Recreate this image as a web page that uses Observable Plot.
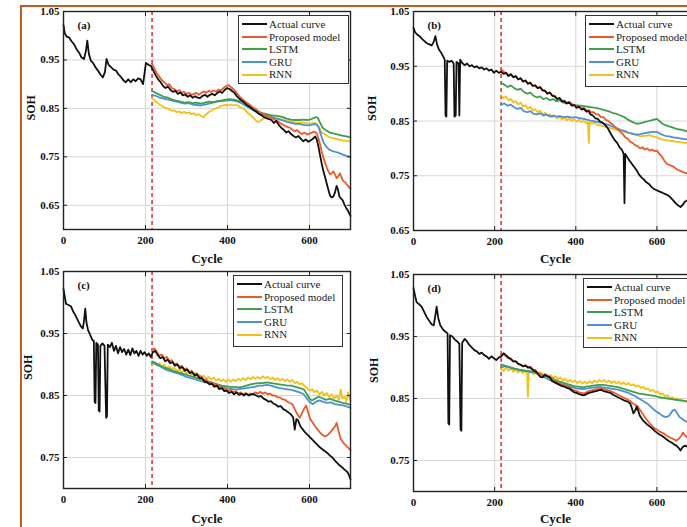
<!DOCTYPE html>
<html><head><meta charset="utf-8">
<script src="https://cdn.jsdelivr.net/npm/d3@7"></script>
<script src="https://cdn.jsdelivr.net/npm/@observablehq/plot@0.6"></script>
<style>
body{margin:0;background:#fff;}
#wrap{position:relative;width:687px;height:527px;overflow:hidden;background:#fff;font-family:'Liberation Serif','Times New Roman',serif;}
.border{position:absolute;left:20px;top:5px;width:720px;height:600px;border-left:2px solid #c25b22;border-top:2px solid #c25b22;pointer-events:none;}
.panel{position:absolute;}
.legend{position:absolute;background:#fff;border:1.5px solid #333;box-sizing:border-box;font-size:11px;color:#222;padding:2px 0 0 3px;font-weight:normal;}
.legend .row{height:12.6px;line-height:12.6px;white-space:nowrap;display:flex;align-items:center;}
.legend .sw{display:inline-block;width:25px;height:0;border-top:2px solid;margin-right:2px;}
</style></head><body><div id="wrap"></div>
<script>
// ---------------- data ----------------
const seriesNames = ["Actual curve", "Proposed model", "LSTM", "GRU", "RNN"];
const seriesColors = ["#111111", "#ea5a2a", "#3d9f4f", "#4f8fd6", "#f3c116"];
const xTicks = [0, 200, 400, 600];
const xDomain = [0, 700];
const splitCycle = 216;
const panelTags = ["(a)", "(b)", "(c)", "(d)"];
const yTicksAB = [0.65, 0.75, 0.85, 0.95, 1.05];
const yTicksCD = [0.75, 0.85, 0.95, 1.05];

// Panel (a)
const actualA = [[0,1.022],[3,1.005],[8,0.998],[14,0.996],[20,0.988],[26,0.982],[32,0.972],[38,0.965],[44,0.955],[50,0.952],[55,0.97],[58,0.99],[62,0.962],[67,0.948],[72,0.944],[78,0.935],[84,0.928],[90,0.92],[96,0.914],[101,0.925],[105,0.952],[110,0.94],[116,0.935],[122,0.93],[128,0.928],[134,0.92],[140,0.915],[146,0.908],[152,0.904],[158,0.91],[164,0.904],[170,0.91],[176,0.906],[182,0.912],[188,0.91],[194,0.9],[198,0.925],[201,0.944],[207,0.94],[213,0.938],[219,0.928],[225,0.918],[231,0.91],[237,0.904],[243,0.896],[249,0.892],[255,0.895],[261,0.888],[267,0.884],[273,0.886],[279,0.88],[285,0.883],[291,0.877],[297,0.879],[303,0.874],[309,0.877],[315,0.872],[321,0.875],[327,0.872],[333,0.871],[339,0.876],[345,0.878],[351,0.874],[357,0.878],[363,0.88],[369,0.877],[375,0.882],[381,0.885],[387,0.882],[393,0.888],[399,0.892],[405,0.89],[411,0.886],[417,0.882],[423,0.875],[429,0.87],[435,0.866],[441,0.862],[447,0.857],[453,0.854],[459,0.85],[465,0.846],[471,0.843],[477,0.838],[483,0.836],[489,0.832],[495,0.83],[501,0.828],[507,0.826],[513,0.82],[519,0.824],[525,0.816],[531,0.81],[537,0.806],[543,0.8],[549,0.803],[555,0.797],[561,0.793],[567,0.79],[573,0.793],[579,0.787],[585,0.782],[591,0.786],[597,0.781],[603,0.784],[609,0.788],[614,0.792],[618,0.785],[622,0.77],[626,0.752],[630,0.735],[634,0.72],[638,0.708],[642,0.695],[646,0.682],[650,0.67],[654,0.666],[658,0.668],[662,0.676],[666,0.69],[669,0.684],[673,0.668],[677,0.664],[681,0.66],[685,0.652],[689,0.645],[693,0.64],[697,0.633],[700,0.628]];
const proposedA = [[216,0.942],[222,0.932],[228,0.922],[234,0.915],[240,0.908],[246,0.904],[252,0.898],[258,0.9],[264,0.892],[270,0.89],[276,0.885],[282,0.888],[288,0.882],[294,0.884],[300,0.88],[306,0.882],[312,0.878],[318,0.88],[324,0.882],[330,0.878],[336,0.882],[342,0.885],[348,0.882],[354,0.886],[360,0.884],[366,0.887],[372,0.885],[378,0.889],[384,0.887],[390,0.892],[396,0.896],[402,0.898],[408,0.894],[414,0.89],[420,0.885],[426,0.878],[432,0.872],[438,0.868],[444,0.863],[450,0.86],[456,0.856],[462,0.852],[468,0.849],[474,0.845],[480,0.842],[486,0.839],[492,0.836],[498,0.834],[504,0.832],[510,0.829],[516,0.826],[522,0.824],[528,0.82],[534,0.817],[540,0.814],[546,0.812],[552,0.81],[558,0.806],[564,0.803],[570,0.805],[576,0.8],[582,0.797],[588,0.8],[594,0.796],[600,0.798],[606,0.8],[612,0.802],[618,0.798],[622,0.788],[626,0.775],[630,0.76],[634,0.748],[638,0.738],[642,0.728],[646,0.72],[650,0.714],[654,0.716],[658,0.72],[662,0.714],[666,0.706],[670,0.71],[674,0.716],[678,0.708],[682,0.7],[686,0.698],[690,0.694],[694,0.69],[698,0.686],[700,0.684]];
const lstmA = [[216,0.886],[225,0.882],[235,0.878],[245,0.874],[255,0.872],[265,0.868],[275,0.866],[285,0.864],[295,0.862],[305,0.863],[315,0.861],[325,0.862],[335,0.86],[345,0.862],[355,0.864],[365,0.863],[375,0.865],[385,0.866],[395,0.868],[405,0.869],[415,0.868],[425,0.866],[435,0.864],[445,0.858],[455,0.852],[465,0.846],[475,0.842],[485,0.84],[495,0.838],[505,0.836],[515,0.835],[525,0.834],[535,0.832],[545,0.829],[555,0.827],[565,0.826],[575,0.826],[585,0.827],[595,0.826],[605,0.828],[615,0.832],[620,0.831],[626,0.82],[632,0.81],[640,0.805],[650,0.8],[660,0.798],[670,0.796],[680,0.794],[690,0.792],[700,0.79]];
const gruA = [[216,0.878],[225,0.876],[235,0.872],[245,0.87],[255,0.868],[265,0.866],[275,0.864],[285,0.862],[295,0.86],[305,0.861],[315,0.858],[325,0.857],[335,0.856],[345,0.858],[355,0.86],[365,0.862],[375,0.864],[385,0.865],[395,0.866],[405,0.867],[415,0.866],[425,0.864],[435,0.86],[445,0.855],[455,0.85],[465,0.845],[475,0.84],[485,0.838],[495,0.835],[505,0.833],[515,0.83],[525,0.828],[535,0.825],[545,0.822],[555,0.82],[565,0.818],[575,0.818],[585,0.816],[595,0.815],[605,0.816],[615,0.818],[622,0.812],[628,0.795],[634,0.78],[640,0.772],[648,0.765],[656,0.762],[664,0.76],[672,0.758],[680,0.755],[690,0.752],[700,0.75]];
const rnnA = [[216,0.872],[222,0.866],[228,0.862],[234,0.858],[240,0.855],[246,0.852],[252,0.85],[258,0.848],[264,0.845],[270,0.846],[276,0.842],[282,0.844],[288,0.84],[294,0.843],[300,0.84],[306,0.842],[312,0.838],[318,0.84],[324,0.836],[330,0.838],[336,0.834],[342,0.832],[348,0.838],[354,0.842],[360,0.845],[366,0.848],[372,0.85],[378,0.852],[384,0.855],[390,0.856],[396,0.857],[402,0.856],[408,0.858],[414,0.856],[420,0.858],[426,0.855],[432,0.852],[438,0.85],[444,0.846],[450,0.84],[456,0.836],[462,0.832],[468,0.826],[474,0.822],[480,0.824],[486,0.828],[492,0.832],[498,0.834],[504,0.833],[510,0.832],[520,0.83],[530,0.828],[540,0.826],[550,0.824],[560,0.822],[570,0.82],[580,0.821],[590,0.82],[600,0.818],[610,0.82],[618,0.818],[624,0.81],[630,0.8],[640,0.795],[650,0.79],[660,0.788],[670,0.786],[680,0.784],[690,0.783],[700,0.782]];

// Panel (b)
const actualB = [[0,1.02],[4,1.012],[9,1.008],[15,1.005],[21,1.0],[27,0.996],[33,0.992],[39,0.99],[45,0.988],[50,0.995],[54,1.005],[58,0.99],[63,0.98],[68,0.975],[73,0.968],[77,0.962],[79,0.86],[81,0.858],[83,0.96],[88,0.958],[94,0.96],[99,0.955],[101,0.858],[104,0.86],[106,0.958],[111,0.955],[113,0.86],[115,0.962],[120,0.956],[126,0.952],[132,0.955],[138,0.95],[144,0.952],[150,0.948],[156,0.95],[162,0.946],[168,0.948],[174,0.944],[180,0.946],[186,0.942],[192,0.944],[198,0.938],[204,0.942],[210,0.938],[216,0.94],[222,0.936],[228,0.938],[234,0.932],[240,0.935],[246,0.93],[252,0.932],[258,0.926],[264,0.928],[270,0.922],[276,0.924],[282,0.918],[288,0.92],[294,0.914],[300,0.915],[306,0.91],[312,0.912],[318,0.906],[324,0.905],[330,0.9],[336,0.902],[342,0.896],[348,0.895],[354,0.89],[360,0.892],[366,0.886],[372,0.886],[378,0.882],[384,0.884],[390,0.878],[396,0.879],[402,0.874],[408,0.876],[414,0.871],[420,0.872],[426,0.867],[432,0.868],[436,0.862],[442,0.86],[448,0.855],[454,0.854],[460,0.849],[466,0.847],[472,0.843],[478,0.838],[484,0.83],[490,0.822],[496,0.815],[502,0.81],[508,0.802],[514,0.797],[518,0.79],[520,0.7],[522,0.79],[526,0.785],[532,0.778],[538,0.772],[544,0.766],[550,0.76],[556,0.752],[562,0.747],[568,0.743],[574,0.738],[580,0.735],[586,0.73],[592,0.726],[598,0.724],[604,0.722],[610,0.72],[616,0.718],[622,0.716],[628,0.714],[634,0.71],[640,0.705],[646,0.7],[652,0.696],[658,0.693],[664,0.697],[668,0.702],[674,0.705],[680,0.704],[686,0.706],[692,0.708],[700,0.71]];
const proposedB = [[216,0.946],[222,0.94],[228,0.938],[234,0.934],[240,0.936],[246,0.93],[252,0.932],[258,0.926],[264,0.928],[270,0.922],[276,0.924],[282,0.918],[288,0.92],[294,0.914],[300,0.915],[306,0.91],[312,0.912],[318,0.906],[324,0.906],[330,0.9],[336,0.902],[342,0.897],[348,0.896],[354,0.891],[360,0.892],[366,0.887],[372,0.887],[378,0.883],[384,0.885],[390,0.88],[396,0.88],[402,0.876],[408,0.877],[414,0.873],[420,0.874],[426,0.87],[432,0.87],[438,0.866],[444,0.866],[450,0.862],[456,0.862],[462,0.857],[468,0.857],[474,0.852],[480,0.85],[486,0.846],[492,0.843],[498,0.838],[504,0.835],[510,0.83],[516,0.826],[522,0.82],[528,0.818],[534,0.812],[540,0.81],[546,0.806],[552,0.804],[558,0.8],[564,0.802],[570,0.798],[576,0.8],[582,0.796],[588,0.798],[594,0.795],[600,0.796],[606,0.79],[612,0.785],[618,0.778],[624,0.772],[630,0.77],[636,0.768],[642,0.766],[648,0.762],[654,0.76],[660,0.758],[666,0.756],[672,0.755],[680,0.754],[690,0.752],[700,0.75]];
const lstmB = [[216,0.92],[224,0.916],[232,0.912],[240,0.915],[248,0.91],[256,0.907],[264,0.909],[272,0.903],[280,0.9],[288,0.902],[296,0.896],[304,0.893],[312,0.895],[320,0.89],[328,0.892],[336,0.888],[344,0.89],[352,0.886],[360,0.888],[368,0.884],[376,0.882],[384,0.884],[392,0.88],[400,0.879],[410,0.878],[420,0.877],[430,0.876],[440,0.875],[450,0.874],[460,0.872],[470,0.87],[480,0.868],[490,0.865],[500,0.863],[510,0.86],[520,0.857],[530,0.852],[540,0.848],[550,0.845],[560,0.846],[570,0.848],[580,0.85],[590,0.852],[600,0.854],[606,0.85],[614,0.845],[622,0.842],[630,0.84],[640,0.838],[650,0.835],[660,0.834],[670,0.832],[680,0.83],[690,0.83],[700,0.829]];
const gruB = [[216,0.88],[224,0.882],[232,0.878],[240,0.88],[248,0.875],[256,0.872],[264,0.874],[272,0.868],[280,0.866],[288,0.868],[296,0.863],[304,0.862],[312,0.864],[320,0.86],[328,0.862],[336,0.858],[344,0.86],[352,0.858],[360,0.859],[370,0.857],[380,0.858],[390,0.856],[400,0.857],[410,0.855],[420,0.854],[430,0.852],[440,0.85],[450,0.849],[460,0.847],[470,0.845],[480,0.843],[490,0.84],[500,0.837],[510,0.834],[520,0.832],[530,0.829],[540,0.827],[550,0.825],[560,0.826],[570,0.828],[580,0.829],[590,0.83],[600,0.83],[610,0.826],[620,0.823],[630,0.822],[640,0.82],[650,0.819],[660,0.818],[670,0.817],[680,0.816],[690,0.815],[700,0.814]];
const rnnB = [[216,0.897],[222,0.892],[228,0.895],[234,0.888],[240,0.89],[246,0.884],[252,0.886],[258,0.88],[264,0.884],[270,0.876],[276,0.879],[282,0.872],[288,0.876],[294,0.869],[300,0.872],[306,0.866],[312,0.869],[318,0.862],[324,0.865],[330,0.86],[336,0.862],[342,0.857],[348,0.86],[354,0.855],[360,0.858],[366,0.853],[372,0.856],[378,0.851],[384,0.855],[390,0.85],[396,0.853],[402,0.849],[408,0.852],[414,0.848],[420,0.85],[426,0.846],[430,0.848],[432,0.81],[434,0.848],[440,0.845],[446,0.847],[452,0.843],[460,0.842],[470,0.84],[480,0.838],[490,0.836],[500,0.834],[510,0.832],[520,0.83],[530,0.828],[540,0.826],[550,0.824],[560,0.822],[570,0.823],[580,0.824],[590,0.822],[600,0.82],[610,0.817],[620,0.815],[630,0.814],[640,0.813],[650,0.812],[660,0.811],[670,0.81],[680,0.81],[690,0.809],[700,0.808]];

// Panel (c)
const actualC = [[0,1.022],[3,1.01],[6,0.998],[12,0.996],[18,0.994],[24,0.985],[30,0.978],[36,0.97],[42,0.962],[47,0.958],[50,0.97],[53,0.99],[56,0.968],[60,0.955],[65,0.948],[70,0.94],[74,0.938],[76,0.84],[78,0.838],[80,0.935],[84,0.932],[86,0.826],[88,0.824],[90,0.93],[95,0.934],[100,0.93],[104,0.814],[106,0.816],[108,0.932],[113,0.928],[118,0.935],[123,0.922],[128,0.93],[133,0.918],[138,0.928],[143,0.92],[148,0.925],[153,0.916],[158,0.924],[163,0.915],[168,0.926],[173,0.918],[178,0.922],[183,0.914],[188,0.922],[193,0.916],[198,0.92],[203,0.914],[208,0.918],[213,0.912],[218,0.92],[224,0.922],[230,0.915],[236,0.91],[242,0.912],[248,0.905],[254,0.908],[260,0.902],[266,0.904],[272,0.898],[278,0.9],[284,0.894],[290,0.896],[296,0.89],[302,0.892],[308,0.886],[314,0.888],[320,0.882],[326,0.884],[332,0.878],[338,0.878],[344,0.872],[350,0.872],[356,0.868],[362,0.869],[368,0.864],[374,0.866],[380,0.86],[386,0.862],[392,0.857],[398,0.858],[404,0.854],[410,0.856],[416,0.852],[422,0.855],[428,0.851],[434,0.853],[440,0.85],[446,0.853],[452,0.85],[458,0.852],[464,0.852],[470,0.85],[476,0.848],[482,0.849],[488,0.845],[494,0.843],[500,0.84],[506,0.841],[512,0.837],[518,0.835],[524,0.832],[530,0.833],[536,0.828],[542,0.826],[548,0.823],[554,0.82],[560,0.815],[564,0.795],[568,0.812],[572,0.81],[578,0.8],[584,0.795],[590,0.79],[596,0.786],[602,0.782],[608,0.778],[614,0.774],[620,0.77],[626,0.766],[632,0.763],[638,0.76],[644,0.757],[650,0.753],[656,0.75],[662,0.745],[668,0.741],[674,0.737],[680,0.734],[686,0.73],[692,0.727],[696,0.722],[700,0.715]];
const proposedC = [[216,0.924],[222,0.926],[228,0.92],[234,0.914],[240,0.916],[246,0.91],[252,0.912],[258,0.905],[264,0.907],[270,0.9],[276,0.902],[282,0.896],[288,0.898],[294,0.892],[300,0.894],[306,0.888],[312,0.89],[318,0.884],[324,0.886],[330,0.88],[336,0.881],[342,0.875],[348,0.876],[354,0.871],[360,0.872],[366,0.867],[372,0.868],[378,0.863],[384,0.865],[390,0.86],[396,0.861],[402,0.857],[408,0.859],[414,0.855],[420,0.857],[426,0.853],[432,0.855],[438,0.852],[444,0.854],[450,0.851],[456,0.853],[462,0.852],[468,0.855],[474,0.853],[480,0.856],[486,0.853],[492,0.855],[498,0.852],[504,0.853],[510,0.85],[516,0.85],[522,0.847],[528,0.847],[534,0.844],[540,0.843],[546,0.84],[552,0.838],[558,0.836],[564,0.828],[570,0.82],[576,0.814],[582,0.822],[588,0.83],[592,0.834],[596,0.824],[602,0.812],[608,0.806],[614,0.8],[620,0.795],[626,0.79],[632,0.786],[638,0.784],[644,0.786],[650,0.79],[656,0.795],[662,0.8],[666,0.806],[670,0.795],[676,0.78],[682,0.774],[688,0.77],[694,0.766],[700,0.762]];
const lstmC = [[216,0.905],[226,0.902],[236,0.898],[246,0.895],[256,0.893],[266,0.89],[276,0.888],[286,0.886],[296,0.884],[306,0.882],[316,0.88],[326,0.878],[336,0.876],[346,0.874],[356,0.872],[366,0.87],[376,0.868],[386,0.866],[396,0.865],[406,0.864],[416,0.864],[426,0.863],[436,0.864],[446,0.866],[456,0.868],[466,0.869],[476,0.87],[486,0.87],[496,0.871],[506,0.87],[516,0.869],[526,0.868],[536,0.867],[546,0.866],[556,0.866],[566,0.864],[576,0.862],[586,0.86],[594,0.852],[600,0.845],[606,0.842],[614,0.845],[622,0.848],[630,0.846],[640,0.843],[650,0.845],[660,0.842],[670,0.84],[680,0.838],[690,0.837],[700,0.835]];
const gruC = [[216,0.903],[226,0.9],[236,0.897],[246,0.893],[256,0.89],[266,0.888],[276,0.886],[286,0.884],[296,0.881],[306,0.879],[316,0.877],[326,0.875],[336,0.873],[346,0.871],[356,0.869],[366,0.867],[376,0.866],[386,0.864],[396,0.862],[406,0.861],[416,0.86],[426,0.86],[436,0.861],[446,0.862],[456,0.863],[466,0.864],[476,0.866],[486,0.866],[496,0.867],[506,0.866],[516,0.864],[526,0.862],[536,0.861],[546,0.86],[556,0.859],[566,0.857],[576,0.855],[586,0.852],[594,0.845],[600,0.84],[608,0.836],[616,0.84],[624,0.842],[632,0.84],[642,0.838],[652,0.839],[662,0.836],[672,0.835],[682,0.834],[692,0.832],[700,0.83]];
const rnnC = [[216,0.9],[222,0.904],[228,0.898],[234,0.902],[240,0.896],[246,0.9],[252,0.894],[258,0.897],[264,0.892],[270,0.895],[276,0.889],[282,0.893],[288,0.887],[294,0.89],[300,0.886],[306,0.889],[312,0.884],[318,0.886],[324,0.882],[330,0.884],[336,0.879],[342,0.882],[348,0.877],[354,0.88],[360,0.876],[366,0.879],[372,0.874],[378,0.877],[384,0.873],[390,0.876],[396,0.872],[402,0.876],[408,0.872],[414,0.876],[420,0.873],[426,0.877],[432,0.874],[438,0.878],[444,0.875],[450,0.879],[456,0.876],[462,0.88],[468,0.877],[474,0.88],[480,0.877],[486,0.881],[492,0.878],[498,0.88],[504,0.876],[510,0.879],[516,0.875],[522,0.878],[528,0.874],[534,0.877],[540,0.873],[546,0.876],[552,0.872],[558,0.875],[564,0.87],[570,0.872],[576,0.868],[582,0.87],[588,0.865],[594,0.862],[600,0.858],[606,0.86],[612,0.855],[618,0.858],[624,0.852],[630,0.856],[636,0.85],[642,0.854],[648,0.848],[654,0.852],[660,0.845],[666,0.85],[672,0.843],[676,0.86],[680,0.845],[686,0.848],[690,0.84],[694,0.855],[700,0.842]];

// Panel (d)
const actualD = [[0,1.028],[4,1.015],[8,1.005],[14,1.002],[20,0.998],[26,0.99],[32,0.982],[38,0.976],[44,0.97],[50,0.968],[54,0.985],[57,0.998],[61,0.98],[66,0.968],[72,0.962],[78,0.958],[84,0.955],[86,0.81],[88,0.808],[90,0.952],[96,0.95],[102,0.945],[108,0.942],[113,0.938],[116,0.8],[118,0.798],[120,0.94],[126,0.946],[132,0.942],[138,0.936],[144,0.932],[150,0.928],[156,0.926],[162,0.922],[168,0.924],[174,0.92],[180,0.918],[186,0.914],[192,0.918],[198,0.915],[204,0.912],[210,0.916],[216,0.918],[222,0.923],[228,0.92],[234,0.916],[240,0.914],[246,0.91],[252,0.91],[258,0.906],[264,0.904],[270,0.902],[276,0.903],[282,0.9],[288,0.9],[294,0.896],[300,0.894],[306,0.89],[312,0.885],[318,0.884],[324,0.888],[330,0.886],[336,0.884],[342,0.878],[348,0.876],[354,0.874],[360,0.872],[366,0.87],[372,0.869],[378,0.867],[384,0.866],[390,0.863],[396,0.86],[402,0.859],[408,0.857],[414,0.856],[420,0.855],[426,0.857],[432,0.859],[438,0.86],[444,0.861],[450,0.862],[456,0.863],[462,0.864],[468,0.862],[474,0.861],[480,0.86],[486,0.859],[492,0.856],[498,0.854],[504,0.852],[510,0.85],[516,0.848],[522,0.846],[528,0.845],[534,0.842],[538,0.835],[542,0.826],[546,0.83],[550,0.837],[554,0.83],[558,0.822],[564,0.816],[570,0.812],[576,0.808],[582,0.805],[588,0.802],[594,0.798],[600,0.795],[606,0.792],[612,0.79],[618,0.787],[624,0.784],[630,0.781],[636,0.779],[642,0.776],[648,0.774],[654,0.77],[658,0.766],[664,0.772],[670,0.774],[676,0.772],[684,0.774],[692,0.775],[700,0.776]];
const proposedD = [[216,0.918],[222,0.922],[228,0.918],[234,0.915],[240,0.913],[246,0.91],[252,0.91],[258,0.906],[264,0.905],[270,0.902],[276,0.904],[282,0.9],[288,0.901],[294,0.897],[300,0.896],[306,0.892],[312,0.888],[318,0.887],[324,0.889],[330,0.887],[336,0.885],[342,0.88],[348,0.878],[354,0.876],[360,0.874],[366,0.872],[372,0.871],[378,0.869],[384,0.868],[390,0.865],[396,0.863],[402,0.862],[408,0.86],[414,0.859],[420,0.858],[426,0.86],[432,0.862],[438,0.863],[444,0.864],[450,0.865],[456,0.866],[462,0.866],[468,0.865],[474,0.864],[480,0.863],[486,0.862],[492,0.86],[498,0.858],[504,0.856],[510,0.854],[516,0.852],[522,0.85],[528,0.848],[534,0.846],[540,0.842],[546,0.84],[552,0.838],[558,0.832],[564,0.826],[570,0.82],[576,0.815],[582,0.81],[588,0.806],[594,0.802],[600,0.8],[606,0.797],[612,0.795],[618,0.793],[624,0.79],[630,0.788],[636,0.786],[642,0.784],[648,0.782],[654,0.785],[660,0.79],[664,0.795],[670,0.79],[676,0.786],[684,0.784],[692,0.783],[700,0.782]];
const lstmD = [[216,0.9],[226,0.902],[236,0.9],[246,0.898],[256,0.897],[266,0.896],[276,0.895],[286,0.894],[296,0.893],[306,0.892],[316,0.888],[326,0.886],[336,0.884],[346,0.881],[356,0.878],[366,0.876],[376,0.874],[386,0.872],[396,0.87],[406,0.869],[416,0.868],[426,0.869],[436,0.87],[446,0.871],[456,0.872],[466,0.872],[476,0.871],[486,0.87],[496,0.869],[506,0.868],[516,0.866],[526,0.864],[536,0.862],[546,0.86],[556,0.858],[566,0.857],[576,0.856],[586,0.855],[596,0.854],[606,0.852],[616,0.851],[626,0.85],[636,0.849],[646,0.848],[656,0.847],[666,0.846],[676,0.845],[686,0.844],[700,0.843]];
const gruD = [[216,0.905],[226,0.903],[236,0.901],[246,0.899],[256,0.897],[266,0.895],[276,0.894],[286,0.893],[296,0.892],[306,0.89],[316,0.886],[326,0.883],[336,0.88],[346,0.877],[356,0.875],[366,0.873],[376,0.871],[386,0.869],[396,0.867],[406,0.866],[416,0.865],[426,0.866],[436,0.867],[446,0.868],[456,0.869],[466,0.868],[476,0.867],[486,0.866],[496,0.865],[506,0.864],[516,0.862],[526,0.86],[536,0.857],[546,0.854],[556,0.85],[566,0.846],[576,0.842],[586,0.836],[596,0.83],[606,0.826],[614,0.822],[622,0.82],[630,0.822],[638,0.83],[644,0.832],[650,0.826],[656,0.82],[664,0.816],[672,0.813],[680,0.811],[690,0.81],[700,0.809]];
const rnnD = [[216,0.898],[222,0.894],[228,0.9],[234,0.895],[240,0.899],[246,0.893],[252,0.897],[258,0.892],[264,0.896],[270,0.891],[276,0.895],[280,0.89],[282,0.853],[284,0.89],[290,0.894],[296,0.889],[302,0.893],[308,0.889],[314,0.892],[320,0.887],[326,0.89],[332,0.885],[338,0.888],[344,0.883],[350,0.886],[356,0.881],[362,0.884],[368,0.879],[374,0.882],[380,0.877],[386,0.88],[392,0.876],[398,0.879],[404,0.875],[410,0.878],[416,0.874],[422,0.877],[428,0.874],[434,0.878],[440,0.875],[446,0.879],[452,0.876],[458,0.88],[464,0.877],[470,0.88],[476,0.876],[482,0.879],[488,0.875],[494,0.878],[500,0.874],[506,0.877],[512,0.873],[518,0.876],[524,0.872],[530,0.875],[536,0.871],[542,0.873],[548,0.869],[554,0.871],[560,0.867],[566,0.869],[572,0.865],[578,0.866],[584,0.862],[590,0.864],[596,0.86],[602,0.861],[608,0.857],[614,0.858],[620,0.854],[626,0.855],[632,0.851],[638,0.852],[644,0.849],[650,0.85],[656,0.847],[662,0.848],[668,0.845],[676,0.846],[684,0.844],[692,0.845],[700,0.843]];

// ---------------- drawing ----------------
const serif = "'Liberation Serif','Times New Roman',serif";
const drawOrder = [4, 3, 2, 1, 0]; // RNN first ... Actual on top

const panels = [
  {tag: panelTags[0], series: [actualA, proposedA, lstmA, gruA, rnnA], yDomain: [0.6, 1.05], yTicks: yTicksAB,
   left: 0, top: 0, width: 360, height: 265, ml: 63, mr: 10, mt: 11, mb: 36, sohDx: 32, cycleDy: 29,
   legend: {left: 238, top: 15, width: 111, height: 69}},
  {tag: panelTags[1], series: [actualB, proposedB, lstmB, gruB, rnnB], yDomain: [0.65, 1.05], yTicks: yTicksAB,
   left: 350, top: 0, width: 360, height: 265, ml: 63, mr: 13, mt: 11, mb: 35, sohDx: 41, cycleDy: 28,
   legend: {left: 235, top: 15, width: 112, height: 72}},
  {tag: panelTags[2], series: [actualC, proposedC, lstmC, gruC, rnnC], yDomain: [0.7, 1.05], yTicks: yTicksCD,
   left: 0, top: 260, width: 360, height: 267, ml: 63, mr: 10, mt: 11, mb: 39, sohDx: 35, cycleDy: 30,
   legend: {left: 233, top: 15, width: 110, height: 72}},
  {tag: panelTags[3], series: [actualD, proposedD, lstmD, gruD, rnnD], yDomain: [0.7, 1.05], yTicks: yTicksCD,
   left: 350, top: 260, width: 360, height: 267, ml: 63, mr: 13, mt: 14, mb: 36, sohDx: 39, cycleDy: 27,
   legend: {left: 233, top: 18, width: 112, height: 70}}
];

const wrap = document.getElementById("wrap");

for (const cfg of panels) {
  const rows = [];
  for (const i of drawOrder) {
    for (const [c, s] of cfg.series[i]) rows.push({cycle: c, soh: s, series: seriesNames[i]});
  }
  const svg = Plot.plot({
    width: cfg.width, height: cfg.height,
    marginLeft: cfg.ml, marginRight: cfg.mr, marginTop: cfg.mt, marginBottom: cfg.mb,
    style: {fontFamily: serif, fontSize: "11px", fontWeight: "bold", background: "transparent", color: "#111", overflow: "visible"},
    x: {domain: xDomain},
    y: {domain: cfg.yDomain},
    color: {domain: seriesNames, range: seriesColors},
    marks: [
      Plot.gridX(xTicks, {stroke: "#d6d6d6", strokeOpacity: 1}),
      Plot.gridY(cfg.yTicks, {stroke: "#d6d6d6", strokeOpacity: 1}),
      Plot.ruleX([splitCycle], {stroke: "#e8362b", strokeWidth: 1.6, strokeDasharray: "4,3"}),
      Plot.line(rows, {x: "cycle", y: "soh", z: "series", stroke: "series", strokeWidth: 1.8}),
      Plot.frame({stroke: "#222", strokeWidth: 1.4}),
      Plot.axisX(xTicks, {anchor: "bottom", tickSize: -4, tickFormat: () => "", label: null, stroke: "#222"}),
      Plot.axisX(xTicks, {anchor: "top", tickSize: -4, tickFormat: () => "", label: null, stroke: "#222"}),
      Plot.axisY(cfg.yTicks, {anchor: "left", tickSize: -4, tickFormat: () => "", label: null, stroke: "#222"}),
      Plot.axisY(cfg.yTicks, {anchor: "right", tickSize: -4, tickFormat: () => "", label: null, stroke: "#222"}),
      Plot.axisX(xTicks, {anchor: "bottom", tickSize: 0, tickPadding: 7, label: null, tickFormat: "d"}),
      Plot.axisY(cfg.yTicks, {anchor: "left", tickSize: 0, tickPadding: 4, label: null, tickFormat: ".2f"}),
      Plot.text(["Cycle"], {frameAnchor: "bottom", dy: cfg.cycleDy, fontSize: 13, lineAnchor: "middle"}),
      Plot.text(["SOH"], {frameAnchor: "left", dx: -cfg.sohDx, rotate: -90, fontSize: 12, lineAnchor: "middle"}),
      Plot.text([cfg.tag], {frameAnchor: "top-left", dx: 14, dy: 14, textAnchor: "start", lineAnchor: "middle", fontSize: 11})
    ]
  });
  const div = document.createElement("div");
  div.className = "panel";
  div.style.left = cfg.left + "px";
  div.style.top = cfg.top + "px";
  div.style.width = cfg.width + "px";
  div.style.height = cfg.height + "px";
  div.appendChild(svg);
  const lg = document.createElement("div");
  lg.className = "legend";
  Object.assign(lg.style, {left: cfg.legend.left + "px", top: cfg.legend.top + "px", width: cfg.legend.width + "px", height: cfg.legend.height + "px"});
  seriesNames.forEach((name, i) => {
    const row = document.createElement("div");
    row.className = "row";
    const sw = document.createElement("span");
    sw.className = "sw";
    sw.style.borderTopColor = seriesColors[i];
    const tx = document.createElement("span");
    tx.textContent = name;
    row.appendChild(sw);
    row.appendChild(tx);
    lg.appendChild(row);
  });
  div.appendChild(lg);
  wrap.appendChild(div);
}
const border = document.createElement("div");
border.className = "border";
wrap.appendChild(border);
</script></body></html>
